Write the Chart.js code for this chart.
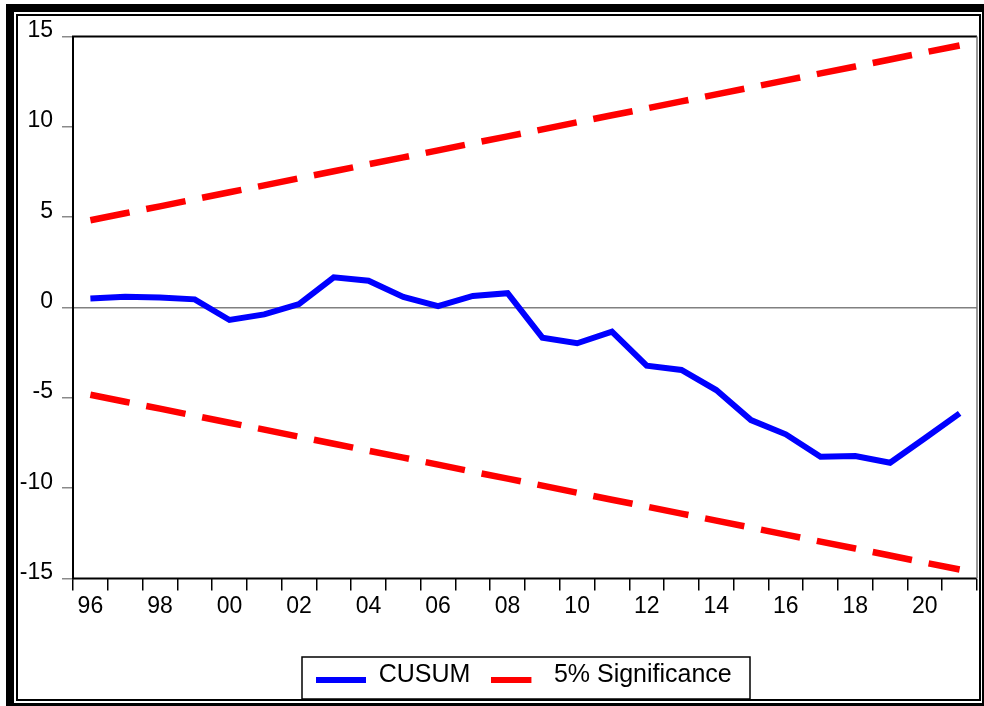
<!DOCTYPE html>
<html><head><meta charset="utf-8">
<script src="https://cdn.jsdelivr.net/npm/chart.js@4"></script>
<style>
html,body{margin:0;padding:0;background:#fff;}
#wrap{position:relative;width:984px;height:706px;overflow:hidden;background:#fff;}
#outer{position:absolute;left:6px;top:4px;width:978px;height:702px;box-sizing:border-box;border-style:solid;border-color:#000;border-width:8px 2px 3px 8px;}
#inner{position:absolute;left:16px;top:14px;width:965px;height:687px;box-sizing:border-box;border:2px solid #000;}
canvas{position:absolute;left:0;top:0;}
</style></head>
<body>
<div id="wrap"><div id="outer"></div><div id="inner"></div><canvas id="c" width="984" height="706"></canvas></div>
<script>
// ---- data ----
const years = ['1996','1997','1998','1999','2000','2001','2002','2003','2004','2005','2006','2007','2008','2009','2010','2011','2012','2013','2014','2015','2016','2017','2018','2019','2020','2021'];
const xTickLabels = ['96','98','00','02','04','06','08','10','12','14','16','18','20'];
const cusum = [0.50,0.60,0.55,0.45,-0.69,-0.38,0.19,1.67,1.48,0.58,0.08,0.64,0.79,-1.67,-1.98,-1.34,-3.22,-3.46,-4.57,-6.23,-7.02,-8.26,-8.22,-8.59,-7.24,-5.86];
const upper5 = [4.83,5.22,5.60,5.99,6.38,6.76,7.15,7.54,7.93,8.31,8.70,9.09,9.47,9.86,10.25,10.64,11.02,11.41,11.80,12.18,12.57,12.96,13.34,13.73,14.12,14.50];
const lower5 = [-4.83,-5.22,-5.60,-5.99,-6.38,-6.76,-7.15,-7.54,-7.93,-8.31,-8.70,-9.09,-9.47,-9.86,-10.25,-10.64,-11.02,-11.41,-11.80,-12.18,-12.57,-12.96,-13.34,-13.73,-14.12,-14.50];
const seriesNames = ['CUSUM','5% Significance'];
const yMin = -15, yMax = 15, yStep = 5;

const BLUE = '#0000FF', RED = '#FF0000';
const FONT = "'Liberation Sans', Arial, sans-serif";

function sample(color, len) {
  const c = document.createElement('canvas');
  c.width = 50; c.height = 20;
  const g = c.getContext('2d');
  g.fillStyle = color;
  g.fillRect(0, 12, len, 6);
  return c;
}
const samples = [sample(BLUE, 50), sample(RED, 40)];

const LEGEND_TEXT_Y = 675;

const framePlugin = {
  id: 'framePlugin',
  afterLayout(chart) {
    const lg = chart.legend, ca = chart.chartArea;
    const cx = (ca.left + ca.right) / 2 - 1;
    const w = lg.right - lg.left, h = lg.bottom - lg.top;
    lg.left = cx - w / 2; lg.right = cx + w / 2;
    const pad = lg.options.labels.padding, fs = lg.options.labels.font.size;
    lg.top = LEGEND_TEXT_Y - pad - fs / 2; lg.bottom = lg.top + h;
  },
  afterDatasetsDraw(chart) {
    const {ctx, chartArea: a} = chart;
    ctx.save();
    ctx.lineWidth = 2;
    ctx.strokeStyle = '#000';
    ctx.beginPath();
    ctx.moveTo(a.right, a.top); ctx.lineTo(a.left, a.top); ctx.lineTo(a.left, a.bottom); ctx.lineTo(a.right, a.bottom);
    ctx.stroke();
    ctx.strokeStyle = '#777';
    ctx.lineWidth = 1.5;
    ctx.beginPath(); ctx.moveTo(a.right, a.top); ctx.lineTo(a.right, a.bottom); ctx.stroke();
    ctx.restore();
  },
  afterDraw(chart) {
    const {ctx, chartArea: a} = chart;
    const cx = (a.left + a.right) / 2 + 1;
    ctx.save();
    ctx.lineWidth = 1.5;
    ctx.strokeStyle = '#000';
    ctx.strokeRect(cx - 224, LEGEND_TEXT_Y - 18, 448, 42);
    ctx.restore();
  }
};

new Chart(document.getElementById('c'), {
  type: 'line',
  data: {
    labels: years,
    datasets: [
      {label: seriesNames[0], data: cusum, borderColor: BLUE, backgroundColor: BLUE, borderWidth: 6, pointRadius: 0, tension: 0, borderJoinStyle: 'miter', borderCapStyle: 'butt'},
      {label: seriesNames[1], data: upper5, borderColor: RED, backgroundColor: RED, borderWidth: 6.5, borderDash: [40, 17], pointRadius: 0, tension: 0, borderCapStyle: 'butt'},
      {label: seriesNames[1] + ' (lower)', data: lower5, borderColor: RED, backgroundColor: RED, borderWidth: 6.5, borderDash: [40, 17], pointRadius: 0, tension: 0, borderCapStyle: 'butt'}
    ]
  },
  options: {
    responsive: false,
    devicePixelRatio: 1,
    animation: false,
    layout: {padding: {left: 0, top: 36.5, right: 7, bottom: 0}},
    scales: {
      x: {
        type: 'category',
        offset: true,
        afterFit(s) { s.height = 71.5; },
        border: {display: false},
        grid: {offset: true, drawOnChartArea: false, drawTicks: true, tickLength: 12, color: '#000', tickColor: '#000', lineWidth: 1.5, tickWidth: 1.5},
        ticks: {
          autoSkip: false, maxRotation: 0, minRotation: 0, padding: 2, color: '#000',
          font: {family: FONT, size: 23},
          callback(v, i) { return i % 2 === 0 ? xTickLabels[i / 2] : ''; }
        }
      },
      y: {
        min: yMin, max: yMax,
        afterFit(s) { s.width = 73; },
        border: {display: false},
        grid: {
          drawTicks: true, tickLength: 11, tickColor: '#8a8a8a', tickWidth: 1.5, lineWidth: 1.5,
          color(ctx) { return ctx.tick && ctx.tick.value === 0 ? '#808080' : 'rgba(0,0,0,0)'; }
        },
        ticks: {stepSize: yStep, padding: 9, labelOffset: -6, color: '#000', font: {family: FONT, size: 23}}
      }
    },
    plugins: {
      tooltip: {enabled: false},
      legend: {
        display: true,
        position: 'bottom',
        labels: {
          usePointStyle: true,
          pointStyleWidth: 50,
          boxHeight: 20,
          padding: 21,
          color: '#000',
          font: {family: FONT, size: 25},
          generateLabels(chart) {
            return chart.data.datasets.slice(0, 2).map((d, i) => ({
              text: d.label, pointStyle: samples[i], fillStyle: d.borderColor,
              strokeStyle: d.borderColor, lineWidth: 0, hidden: false, datasetIndex: i, fontColor: '#000'
            }));
          }
        }
      }
    }
  },
  plugins: [framePlugin]
});
</script>
</body></html>
